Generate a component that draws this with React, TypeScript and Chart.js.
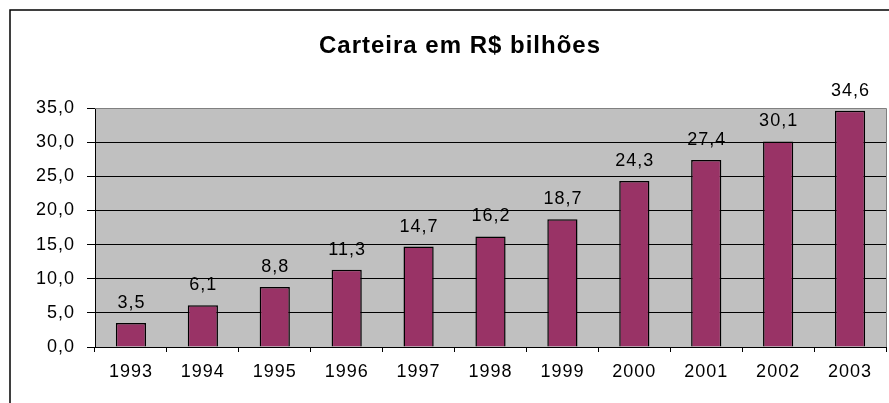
import React, { useEffect, useRef } from 'react';
import { Chart, registerables } from 'chart.js';

Chart.register(...registerables);

const years = ['1993', '1994', '1995', '1996', '1997', '1998', '1999', '2000', '2001', '2002', '2003'];
const carteira = [3.5, 6.1, 8.8, 11.3, 14.7, 16.2, 18.7, 24.3, 27.4, 30.1, 34.6];
const yMin = 0;
const yMax = 35;
const yStep = 5;
const titleText = 'Carteira em R$ bilhões';

const FONT = '"Liberation Sans", Arial, sans-serif';
const fmt = (v: number) => v.toFixed(1).replace('.', ',');

const framePlugin = {
  id: 'frame',
  beforeDraw(chart: any) {
    const ctx = chart.ctx;
    ctx.letterSpacing = '1px';
    ctx.save();
    ctx.fillStyle = '#ffffff';
    ctx.fillRect(0, 0, chart.width, chart.height);
    ctx.strokeStyle = '#000000';
    ctx.lineWidth = 1.5;
    ctx.strokeRect(10, 10, chart.width + 20, chart.height + 20);
    const { left, top, right, bottom } = chart.chartArea;
    ctx.fillStyle = '#C0C0C0';
    ctx.fillRect(left, top, right - left, bottom - top);
    ctx.restore();
  },
  afterDraw(chart: any) {
    const ctx = chart.ctx;
    const { left, top, right, bottom } = chart.chartArea;
    ctx.save();
    ctx.strokeStyle = '#808080';
    ctx.lineWidth = 1;
    ctx.beginPath();
    ctx.moveTo(left, Math.round(top) + 0.5);
    ctx.lineTo(Math.round(right) + 0.5, Math.round(top) + 0.5);
    ctx.lineTo(Math.round(right) + 0.5, bottom);
    ctx.stroke();
    ctx.letterSpacing = '1px';
    ctx.font = `bold 24px ${FONT}`;
    ctx.fillStyle = '#000000';
    ctx.textAlign = 'center';
    ctx.textBaseline = 'alphabetic';
    ctx.fillText(titleText, 460, 53);
    ctx.restore();
  },
};

const labelPlugin = {
  id: 'barLabels',
  afterDatasetsDraw(chart: any) {
    const ctx = chart.ctx;
    const meta = chart.getDatasetMeta(0);
    ctx.save();
    ctx.letterSpacing = '1px';
    ctx.font = `18px ${FONT}`;
    ctx.fillStyle = '#000000';
    ctx.textAlign = 'center';
    ctx.textBaseline = 'alphabetic';
    meta.data.forEach((bar: any, i: number) => {
      ctx.fillText(fmt(carteira[i]), bar.x + 0.5, bar.y - 15);
    });
    ctx.restore();
  },
};

export default function App() {
  const ref = useRef<HTMLCanvasElement | null>(null);

  useEffect(() => {
    document.body.style.margin = '0';
    const canvas = ref.current;
    if (!canvas) return;
    const chart = new Chart(canvas, {
      type: 'bar',
      data: {
        labels: years,
        datasets: [
          {
            data: carteira,
            backgroundColor: '#993366',
            borderColor: '#000000',
            borderWidth: 1.5,
            barPercentage: 0.42,
            categoryPercentage: 1,
          },
        ],
      },
      options: {
        responsive: false,
        animation: false,
        devicePixelRatio: 1,
        layout: { padding: { left: 10, right: 3, top: 108, bottom: 0 } },
        plugins: {
          legend: { display: false },
          title: { display: false },
          tooltip: { enabled: false },
        },
        scales: {
          x: {
            grid: {
              offset: true,
              drawOnChartArea: false,
              drawTicks: true,
              tickLength: 5,
              color: '#000000',
            },
            border: { display: true, color: '#000000', width: 1 },
            ticks: {
              color: '#000000',
              font: { family: FONT, size: 18 },
              padding: 9,
              maxRotation: 0,
              autoSkip: false,
            },
            afterFit(scale: any) {
              scale.height = 56;
            },
          },
          y: {
            min: yMin,
            max: yMax,
            grid: {
              color: (c: any) => (c.tick && c.tick.value === yMax ? '#808080' : '#000000'),
              tickColor: '#000000',
              drawTicks: true,
              tickLength: 8,
            },
            border: { display: true, color: '#000000', width: 1 },
            ticks: {
              stepSize: yStep,
              color: '#000000',
              font: { family: FONT, size: 18 },
              padding: 12,
              callback: (v: any) => fmt(Number(v)),
            },
            afterFit(scale: any) {
              scale.width = 85;
            },
          },
        },
      },
      plugins: [framePlugin, labelPlugin],
    });
    return () => chart.destroy();
  }, []);

  return (
    <div style={{ width: 889, height: 403 }}>
      <canvas ref={ref} width={889} height={403} style={{ display: 'block' }} />
    </div>
  );
}
